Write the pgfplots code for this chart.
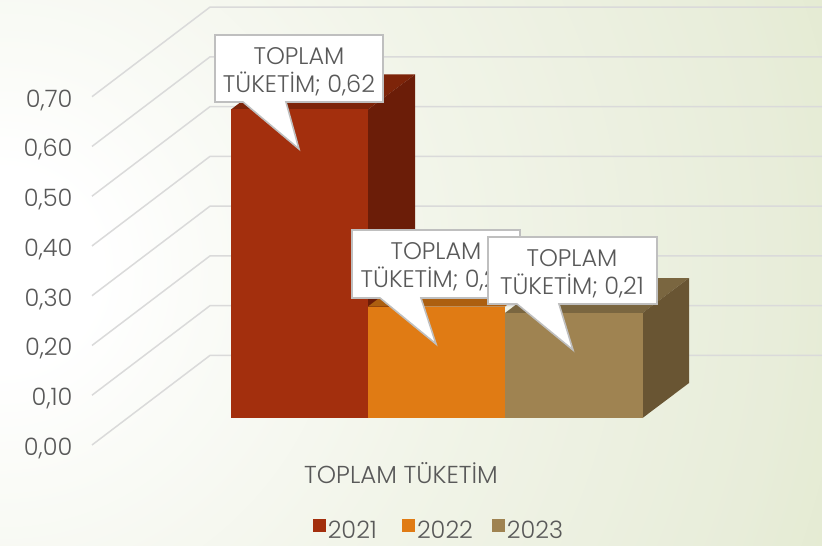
\documentclass[border=0pt]{standalone}
\usepackage{pgfplots}
\pgfplotsset{compat=1.18}
\usepackage{fontspec}
\setmainfont{Poppins}[UprightFont=* Light]
\definecolor{txt}{HTML}{595959}
\definecolor{gridc}{HTML}{DADADA}
\definecolor{aF}{HTML}{A32F0D}\definecolor{aS}{HTML}{6B1D08}\definecolor{aT}{HTML}{7D2409}
\definecolor{bF}{HTML}{E07B14}\definecolor{bS}{HTML}{945110}\definecolor{bT}{HTML}{AC5F10}
\definecolor{cF}{HTML}{9F8351}\definecolor{cS}{HTML}{695533}\definecolor{cT}{HTML}{7A6640}
\definecolor{boxline}{HTML}{BFBFBF}
\definecolor{bg0}{HTML}{FFFFFF}\definecolor{bg1}{HTML}{FAFBF7}\definecolor{bg2}{HTML}{F1F4E8}
\definecolor{bg3}{HTML}{E8EDDA}\definecolor{bg4}{HTML}{E3EACF}\definecolor{bg5}{HTML}{E2E9CD}
\pgfdeclareradialshading{bgrad}{\pgfpoint{0bp}{0bp}}{color(0bp)=(bg0); color(2.8bp)=(bg0); color(6.1bp)=(bg1); color(13.3bp)=(bg2); color(22.1bp)=(bg3); color(26bp)=(bg4); color(27.7bp)=(bg5); color(50bp)=(bg5)}
\begin{document}
\begin{tikzpicture}[x=1pt,y=1pt]
\begin{scope}
\clip (0,0) rectangle (822,546);
\shade[shading=bgrad] (0,276) circle (880);
\end{scope}
\useasboundingbox (0,0) rectangle (822,546);
% grid wall and value ticks
\begin{axis}[
  at={(92pt,0pt)},anchor=south west,
  scale only axis,width=730pt,height=546pt,
  xmin=92,xmax=822,ymin=-0.203,ymax=0.8943,
  axis line style={draw=none},major tick length=0pt,
  xtick=\empty,
  ytick={0,0.1,0.2,0.3,0.4,0.5,0.6,0.7},
  tick label style={font=\fontsize{24}{28}\selectfont,text=txt},
  yticklabel style={xshift=-16pt,yshift=-3.5pt,/pgf/number format/fixed,/pgf/number format/fixed zerofill,/pgf/number format/precision=2,/pgf/number format/use comma,/pgf/number format/assume math mode=true},
  clip=false,
]
\addplot[gridc,line width=1.5pt] coordinates {(92,0.0) (210,0.18) (822,0.18)};
\addplot[gridc,line width=1.5pt] coordinates {(92,0.1) (210,0.28) (822,0.28)};
\addplot[gridc,line width=1.5pt] coordinates {(92,0.2) (210,0.38) (822,0.38)};
\addplot[gridc,line width=1.5pt] coordinates {(92,0.3) (210,0.48) (822,0.48)};
\addplot[gridc,line width=1.5pt] coordinates {(92,0.4) (210,0.58) (822,0.58)};
\addplot[gridc,line width=1.5pt] coordinates {(92,0.5) (210,0.68) (822,0.68)};
\addplot[gridc,line width=1.5pt] coordinates {(92,0.6) (210,0.78) (822,0.78)};
\addplot[gridc,line width=1.5pt] coordinates {(92,0.7) (210,0.88) (822,0.88)};
\end{axis}
% bars
\begin{axis}[
  at={(0pt,0pt)},anchor=south west,
  scale only axis,width=822pt,height=546pt,
  xmin=0,xmax=822,ymin=-0.2572,ymax=0.840,
  axis line style={draw=none},major tick length=0pt,
  ytick=\empty,xtick={401},xticklabels={TOPLAM TÜKETİM},
  tick label style={font=\fontsize{24.5}{28}\selectfont,text=txt},
  xticklabel style={anchor=center,yshift=73pt},
  xticklabel shift=0pt,
  legend columns=3,
  legend style={at={(axis cs:439,-0.2255)},anchor=center,draw=none,fill=none,
    font=\fontsize{24}{28}\selectfont,text=txt,
    nodes={text depth=0pt,text height=17pt},
    /tikz/column 2/.style={column sep=23pt},
    /tikz/column 4/.style={column sep=17pt},
    /tikz/inner sep=0pt},
  legend image code/.code={\fill[#1] (-11pt,-2pt) rectangle (2pt,11pt);},
]
% 2021
\addplot[fill=aT,draw=none,forget plot] coordinates {(231,0.62) (277,0.6903) (415,0.6903) (368,0.62)} --cycle;
\addplot[fill=aS,draw=none,forget plot] coordinates {(368,0) (415,0.0703) (415,0.6903) (368,0.62)} --cycle;
\addplot[fill=aF,draw=none] coordinates {(231,0) (231,0.62) (368,0.62) (368,0)} --cycle;
% 2022
\addplot[fill=bT,draw=none,forget plot] coordinates {(368,0.224) (414,0.2943) (552,0.2943) (505,0.224)} --cycle;
\addplot[fill=bF,draw=none] coordinates {(368,0) (368,0.224) (505,0.224) (505,0)} --cycle;
% 2023
\addplot[fill=cT,draw=none,forget plot] coordinates {(505,0.211) (551,0.2813) (689,0.2813) (642.5,0.211)} --cycle;
\addplot[fill=cS,draw=none,forget plot] coordinates {(642.5,0) (689,0.0703) (689,0.2813) (642.5,0.211)} --cycle;
\addplot[fill=cF,draw=none] coordinates {(505,0) (505,0.211) (642.5,0.211) (642.5,0)} --cycle;
\legend{2021,2022,2023}
\end{axis}
% data-label callouts (coordinates in image pixels, y from the top)
\begin{scope}[shift={(0,546)},y=-1pt]
\tikzset{call/.style={fill=white,draw=boxline,line width=1.6pt,line join=miter},
  lab/.style={align=center,text=txt,font=\fontsize{24}{28}\selectfont,inner sep=0pt}}
\draw[call] (215,35) -- (383,35) -- (383,102) -- (286,102) -- (299,149) -- (243,102) -- (215,102) -- cycle;
\node[lab] at (299,72) {TOPLAM\\TÜKETİM; 0,62};
\draw[call] (352,230) -- (520,230) -- (520,298) -- (421,298) -- (436,344) -- (380,298) -- (352,298) -- cycle;
\node[lab] at (436,267) {TOPLAM\\TÜKETİM; 0,22};
\draw[call] (488,237) -- (657,237) -- (657,304) -- (559,304) -- (573,350) -- (517,304) -- (488,304) -- cycle;
\node[lab] at (572,274) {TOPLAM\\TÜKETİM; 0,21};
\end{scope}
\end{tikzpicture}
\end{document}
